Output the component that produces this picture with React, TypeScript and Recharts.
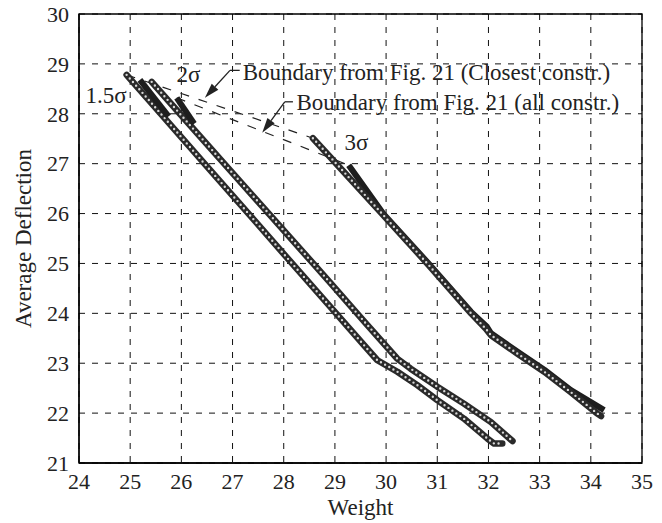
import React from 'react';
import {
  LineChart,
  Line,
  XAxis,
  YAxis,
  CartesianGrid,
  ReferenceArea,
  ReferenceLine,
  ReferenceDot,
} from 'recharts';

const FONT = "'Liberation Serif', 'Times New Roman', 'DejaVu Serif', serif";
const INK = '#222';

const xTicks = [24, 25, 26, 27, 28, 29, 30, 31, 32, 33, 34, 35];
const yTicks = [21, 22, 23, 24, 25, 26, 27, 28, 29, 30];

// 1.5 sigma front
const sigma15 = [
  { x: 24.93, y: 28.78 },
  { x: 25.6, y: 28.0 },
  { x: 26.46, y: 26.99 },
  { x: 27.32, y: 25.99 },
  { x: 28.12, y: 25.05 },
  { x: 28.92, y: 24.12 },
  { x: 29.57, y: 23.36 },
  { x: 29.83, y: 23.06 },
  { x: 30.22, y: 22.83 },
  { x: 30.61, y: 22.56 },
  { x: 31.0, y: 22.26 },
  { x: 31.52, y: 21.89 },
  { x: 31.98, y: 21.49 },
  { x: 32.11, y: 21.39 },
  { x: 32.27, y: 21.39 },
];

// 2 sigma front
const sigma2 = [
  { x: 25.42, y: 28.64 },
  { x: 25.98, y: 27.99 },
  { x: 26.88, y: 26.95 },
  { x: 27.76, y: 25.94 },
  { x: 28.6, y: 24.97 },
  { x: 28.92, y: 24.6 },
  { x: 29.57, y: 23.84 },
  { x: 30.22, y: 23.09 },
  { x: 30.48, y: 22.89 },
  { x: 31.0, y: 22.53 },
  { x: 31.52, y: 22.19 },
  { x: 32.05, y: 21.82 },
  { x: 32.47, y: 21.44 },
];

// 3 sigma front
const sigma3 = [
  { x: 28.57, y: 27.51 },
  { x: 28.92, y: 27.12 },
  { x: 29.9, y: 26.02 },
  { x: 30.84, y: 24.96 },
  { x: 31.66, y: 24.0 },
  { x: 31.95, y: 23.69 },
  { x: 32.05, y: 23.56 },
  { x: 32.57, y: 23.19 },
  { x: 33.09, y: 22.83 },
  { x: 33.61, y: 22.42 },
  { x: 34.13, y: 21.99 },
  { x: 34.2, y: 21.94 },
];

// dense (overlapping marker) segments
const sigma15Dense = [
  { x: 25.19, y: 28.68 },
  { x: 25.75, y: 27.95 },
];
const sigma2Dense = [
  { x: 25.91, y: 28.32 },
  { x: 26.25, y: 27.8 },
];
const sigma3Dense = [
  { x: 29.27, y: 26.97 },
  { x: 29.95, y: 25.99 },
  { x: 30.84, y: 24.99 },
  { x: 31.66, y: 24.03 },
  { x: 31.97, y: 23.73 },
  { x: 32.05, y: 23.6 },
  { x: 32.57, y: 23.23 },
  { x: 33.09, y: 22.87 },
  { x: 33.61, y: 22.46 },
  { x: 34.26, y: 22.06 },
];

// boundaries from Fig. 21
const boundaryClosest = [
  { x: 24.93, y: 28.78 },
  { x: 28.57, y: 27.51 },
];
const boundaryAll = [
  { x: 25.91, y: 28.32 },
  { x: 29.27, y: 26.97 },
];

// annotation texts
const texts = [
  { text: '1.5σ', x: 24.53, y: 28.21, anchor: 'middle' },
  { text: '2σ', x: 26.14, y: 28.64, anchor: 'middle' },
  { text: '3σ', x: 29.42, y: 27.27, anchor: 'middle' },
  { text: 'Boundary from Fig. 21 (Closest constr.)', x: 27.2, y: 28.68, anchor: 'start' },
  { text: 'Boundary from Fig. 21 (all constr.)', x: 28.25, y: 28.08, anchor: 'start' },
];

// annotation arrows: [from, to]
const arrows = [
  [{ x: 26.95, y: 28.87 }, { x: 26.46, y: 28.32 }],
  [{ x: 28.02, y: 28.24 }, { x: 27.58, y: 27.62 }],
];
const leaders = [
  [{ x: 26.95, y: 28.87 }, { x: 27.14, y: 28.87 }],
  [{ x: 28.02, y: 28.24 }, { x: 28.18, y: 28.24 }],
];

const arrowShape = (p: any) => {
  const { x1, y1, x2, y2 } = p;
  const ang = Math.atan2(y2 - y1, x2 - x1);
  const L = 15;
  const W = 4.5;
  const c = Math.cos(ang);
  const s = Math.sin(ang);
  const bx = x2 - L * c;
  const by = y2 - L * s;
  const pts = `${x2},${y2} ${bx - W * s},${by + W * c} ${bx + W * s},${by - W * c}`;
  return (
    <g>
      <line x1={x1} y1={y1} x2={bx} y2={by} stroke={INK} strokeWidth={1.3} />
      <polygon points={pts} fill={INK} />
    </g>
  );
};

const band = (data: any[], key: string) => [
  <Line
    key={key + '-o'}
    data={data}
    dataKey="y"
    type="linear"
    stroke="#2a2a2a"
    strokeWidth={6.5}
    strokeLinejoin="round"
    strokeLinecap="round"
    dot={false}
    activeDot={false}
    isAnimationActive={false}
  />,
  <Line
    key={key + '-i'}
    data={data}
    dataKey="y"
    type="linear"
    stroke="#d8d8d8"
    strokeWidth={2.4}
    strokeDasharray="0 4.8"
    strokeLinecap="round"
    dot={false}
    activeDot={false}
    isAnimationActive={false}
  />,
];

const dense = (data: any[], key: string) => (
  <Line
    key={key}
    data={data}
    dataKey="y"
    type="linear"
    stroke="#1e1e1e"
    strokeWidth={6}
    strokeLinejoin="round"
    dot={false}
    activeDot={false}
    isAnimationActive={false}
  />
);

const dashed = (data: any[], key: string) => (
  <Line
    key={key}
    data={data}
    dataKey="y"
    type="linear"
    stroke={INK}
    strokeWidth={1.2}
    strokeDasharray="9 10"
    dot={false}
    activeDot={false}
    isAnimationActive={false}
  />
);

const YLabel = (props: any) => {
  const vb = props.viewBox || { x: 0, y: 0, height: 0 };
  const cy = vb.y + vb.height / 2;
  const cx = 31;
  return (
    <text
      transform={`translate(${cx}, ${cy}) rotate(-90)`}
      textAnchor="middle"
      fontFamily={FONT}
      fontSize={23}
      fill={INK}
    >
      Average Deflection
    </text>
  );
};

export default function App() {
  return (
    <div style={{ position: 'absolute', left: 0, top: 0, width: 662, height: 523, background: '#fff' }}>
      <LineChart width={662} height={523} margin={{ top: 14, right: 20, bottom: 0, left: 0 }}>
        <CartesianGrid stroke="#111" strokeWidth={1} strokeDasharray="6 7" />
        <XAxis
          type="number"
          dataKey="x"
          domain={[24, 35]}
          ticks={xTicks}
          allowDataOverflow
          height={60}
          tickSize={0}
          tickMargin={10}
          axisLine={{ stroke: '#000', strokeWidth: 1.3 }}
          tick={{ fontSize: 22, fill: INK, fontFamily: FONT }}
          label={{ value: 'Weight', position: 'insideBottom', offset: 8, fontSize: 23, fill: INK, fontFamily: FONT }}
        />
        <YAxis
          type="number"
          domain={[21, 30]}
          ticks={yTicks}
          allowDataOverflow
          width={79}
          tickSize={0}
          tickMargin={10}
          axisLine={{ stroke: '#000', strokeWidth: 1.3 }}
          tick={{ fontSize: 22, fill: INK, fontFamily: FONT }}
          label={{ content: YLabel }}
        />
        <ReferenceArea x1={24} x2={35} y1={21} y2={30} fill="none" stroke="#000" strokeWidth={1.3} ifOverflow="visible" />
        {dashed(boundaryClosest, 'bc')}
        {dashed(boundaryAll, 'ba')}
        {band(sigma15, 's15')}
        {band(sigma2, 's2')}
        {dense(sigma3Dense, 'd3')}
        {band(sigma3, 's3')}
        {dense(sigma15Dense, 'd15')}
        {dense(sigma2Dense, 'd2')}
        {leaders.map((seg, i) => (
          <ReferenceLine key={'l' + i} segment={seg} stroke={INK} strokeWidth={1.3} ifOverflow="visible" />
        ))}
        {arrows.map((seg, i) => (
          <ReferenceLine key={'a' + i} segment={seg} shape={arrowShape} ifOverflow="visible" />
        ))}
        {texts.map((t, i) => (
          <ReferenceDot
            key={'t' + i}
            x={t.x}
            y={t.y}
            r={0}
            ifOverflow="visible"
            shape={(p: any) => (
              <text
                x={p.cx}
                y={p.cy}
                textAnchor={t.anchor as any}
                fontFamily={FONT}
                fontSize={23}
                fill={INK}
              >
                {t.text}
              </text>
            )}
          />
        ))}
      </LineChart>
    </div>
  );
}
